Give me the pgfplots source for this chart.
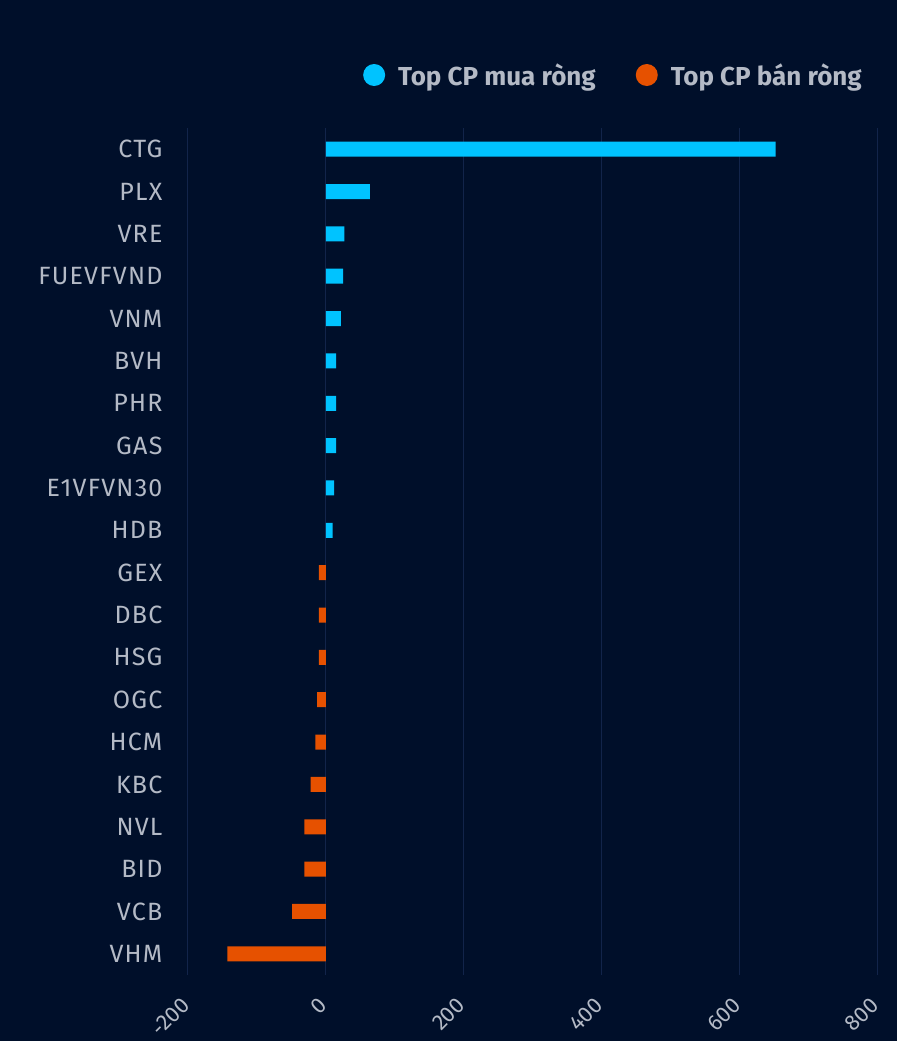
\documentclass[border=0pt]{standalone}
\usepackage{pgfplots}
\pgfplotsset{compat=1.18}
\usepackage{fontspec}
\setmainfont{Fira Sans}
\definecolor{bg}{HTML}{000F2A}
\definecolor{gridc}{HTML}{12244A}
\definecolor{buy}{HTML}{00C3FF}
\definecolor{sell}{HTML}{E65100}
\definecolor{txt}{HTML}{B4BAC6}
\begin{document}
\begin{tikzpicture}
\fill[bg] (-188pt,-66pt) rectangle (709pt,975pt);
\begin{axis}[at={(0pt,0pt)}, anchor=south west, scale only axis,
  width=689pt, height=847pt,
  xmin=-200, xmax=800, ymin=-0.5, ymax=19.5, y dir=reverse,
  xtick={-200,0,200,400,600,800}, ytick={0,...,19},
  yticklabels={CTG,PLX,VRE,FUEVFVND,VNM,BVH,PHR,GAS,E1VFVN30,HDB,GEX,DBC,HSG,OGC,HCM,KBC,NVL,BID,VCB,VHM},
  xmajorgrids, ymajorgrids=false, grid style={gridc, line width=1pt},
  axis line style={draw=none}, major tick length=0pt,
  /pgf/number format/assume math mode=true,
  tick label style={text=txt},
  yticklabel style={xshift=-22pt, font=\fontsize{25}{28}\selectfont\addfontfeature{LetterSpace=5}},
  xticklabel style={rotate=45, anchor=east, xshift=-17pt, yshift=-17pt, overlay,
    font=\fontsize{22}{24}\selectfont},
  xbar, bar width=15pt, bar shift=0pt,
  legend columns=2,
  legend style={at={(1,1)}, anchor=east, xshift=-10pt, yshift=53pt, draw=none, fill=none,
    text=txt, font=\bfseries\fontsize{26}{28}\selectfont,
    /tikz/every odd column/.append style={column sep=11pt},
    /tikz/every even column/.append style={column sep=38pt}},
  legend image code/.code={\fill[#1] (0pt,0pt) circle (11pt);},
]
\addplot[fill=buy, draw=none] coordinates {(653,0) (64,1) (27,2) (25,3) (22,4) (15,5) (15,6) (15,7) (12,8) (10,9)};
\addlegendentry{Top CP mua ròng}
\addplot[fill=sell, draw=none] coordinates {(-10,10) (-10,11) (-10,12) (-12.5,13) (-15,14) (-22,15) (-31,16) (-31,17) (-49,18) (-143,19)};
\addlegendentry{Top CP bán ròng}
\end{axis}
\end{tikzpicture}
\end{document}
